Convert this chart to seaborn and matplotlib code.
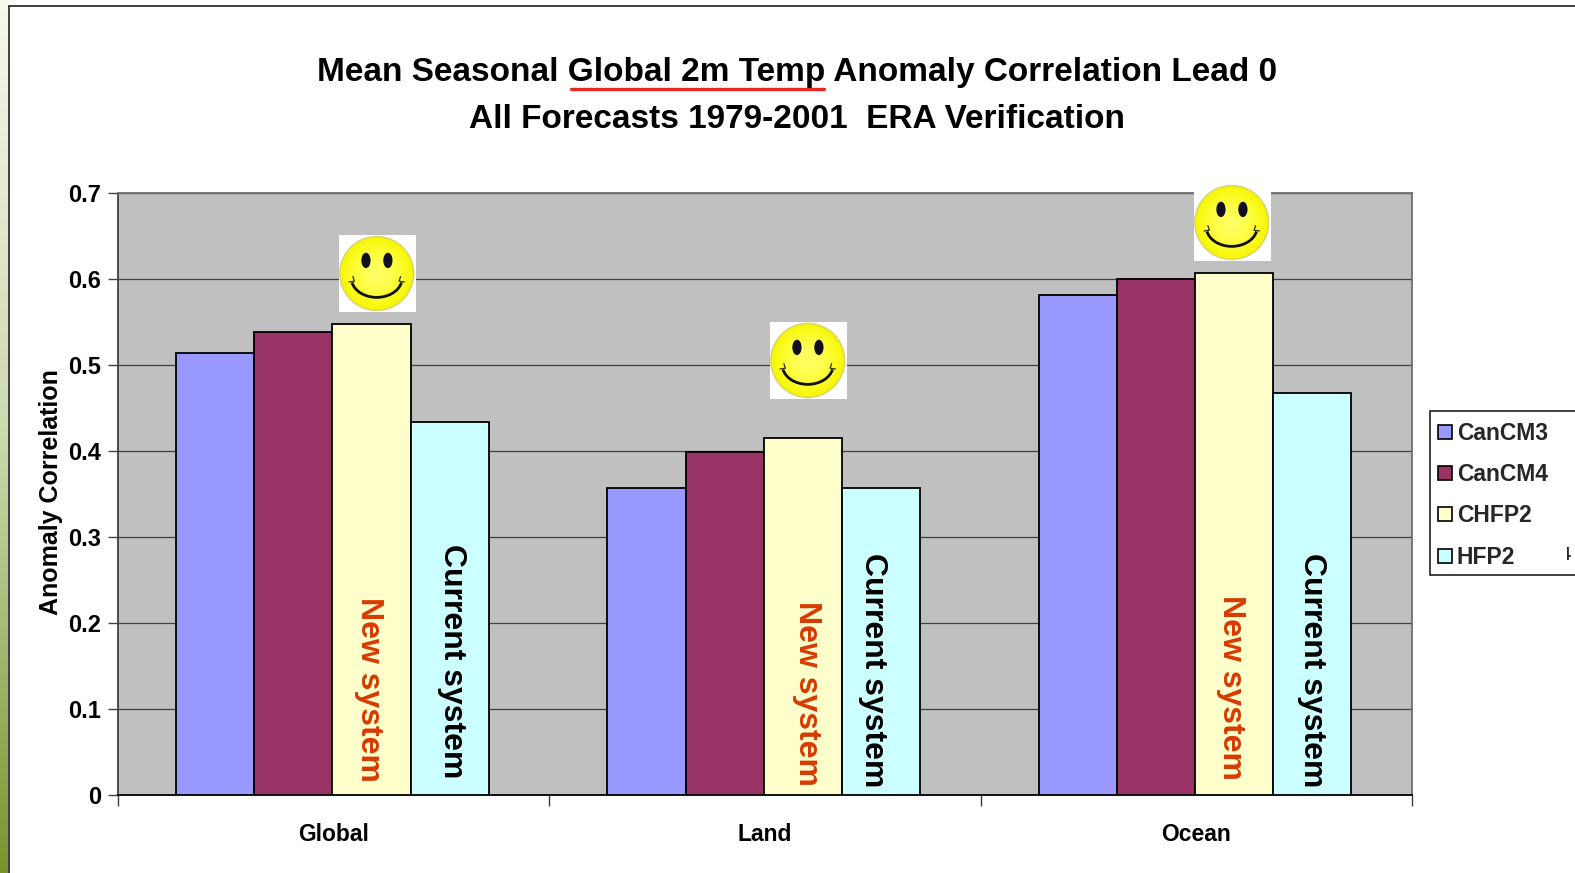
import numpy as np
import pandas as pd
import matplotlib
matplotlib.use("Agg")
import matplotlib.pyplot as plt
from matplotlib.patches import Rectangle, Circle, Ellipse, Arc
from matplotlib.transforms import Bbox
import seaborn as sns

categories = ["Global", "Land", "Ocean"]
models = ["CanCM3", "CanCM4", "CHFP2", "HFP2"]
cancm3 = [0.513, 0.357, 0.581]
cancm4 = [0.538, 0.398, 0.599]
chfp2 = [0.547, 0.415, 0.606]
hfp2 = [0.433, 0.357, 0.467]
colors = ["#9999FF", "#993366", "#FFFFCC", "#CCFFFF"]
yticks = [0, 0.1, 0.2, 0.3, 0.4, 0.5, 0.6, 0.7]
ytick_labels = ["0", "0.1", "0.2", "0.3", "0.4", "0.5", "0.6", "0.7"]
title_lines = ["Mean Seasonal Global 2m Temp Anomaly Correlation Lead 0",
               "All Forecasts 1979-2001  ERA Verification"]

W, H = 1575, 873
sns.set_theme(style="white")
plt.rcParams["font.family"] = ["Liberation Sans", "DejaVu Sans"]

def fx(px): return px / W
def fy(py): return 1 - py / H

fig = plt.figure(figsize=(W / 100, H / 100), dpi=100, facecolor="white")

# slide edge: pale-to-olive gradient strip and dark frame
strip = fig.add_axes([0, 0, fx(8), 1], zorder=0)
t = np.linspace(0, 1, 256)[:, None]
c0, c1, c2 = np.array([.97, .97, .93]), np.array([.80, .85, .68]), np.array([.48, .58, .18])
grad = np.where(t < .5, c0 + (c1 - c0) * t * 2, c1 + (c2 - c1) * (t - .5) * 2)
strip.imshow(grad[:, None, :].reshape(256, 1, 3), aspect="auto")
strip.axis("off")
fig.add_artist(plt.Line2D([fx(8.5), fx(8.5)], [0, fy(6)], color="#303030", lw=1.3))
fig.add_artist(plt.Line2D([fx(8.5), 1], [fy(6), fy(6)], color="#303030", lw=1.3))

L, R, T, B = 118, 1412, 192.5, 795
ax = fig.add_axes([fx(L), fy(B), fx(R - L), (B - T) / H], facecolor="#C0C0C0")

df = pd.DataFrame({"Category": categories, models[0]: cancm3, models[1]: cancm4,
                   models[2]: chfp2, models[3]: hfp2}).melt(
    id_vars="Category", var_name="Model", value_name="Value")
sns.barplot(data=df, x="Category", y="Value", hue="Model", hue_order=models, order=categories,
            palette=colors, saturation=1, width=0.725, gap=0, dodge=True,
            edgecolor="black", linewidth=1.3, legend=False, ax=ax, zorder=3)
for p in ax.patches:
    p.set_x(p.get_x() - 0.003)
ax.set_xlim(-0.5, 2.5)
ax.set_ylim(0, 0.7)
ax.set_yticks(yticks, ytick_labels, fontsize=17, fontweight="bold", color="black")
ax.set_xticks(range(3), categories, fontsize=16.5, fontweight="bold", color="black")
ax.set_xticks([-0.5, 0.5, 1.5, 2.5], minor=True)
ax.tick_params(axis="x", which="major", length=0, pad=20)
ax.tick_params(axis="x", which="minor", length=8, width=1, color="#404040", bottom=True)
ax.tick_params(axis="y", length=7, width=1, color="#404040", left=True, pad=5)
ax.set_xlabel("")
ax.set_ylabel("Anomaly Correlation", fontsize=18, fontweight="bold", color="black", labelpad=3.5, y=0.503)
ax.yaxis.grid(True, color="#404040", lw=0.9, zorder=1)
ax.set_axisbelow(True)
for s, sp in ax.spines.items():
    sp.set_visible(True); sp.set_color("#707070"); sp.set_linewidth(1.3)
ax.spines["bottom"].set_color("black")
ax.spines["left"].set_color("#404040")

# title
for line, y in zip(title_lines, [70, 117]):
    fig.text(fx(797), fy(y + 2), line, ha="center", va="center", fontsize=24, fontweight="bold",
             color="black", zorder=6)
fig.add_artist(plt.Line2D([fx(571), fx(824)], [fy(89), fy(89)], color="#E8281E", lw=2.4))

# rotated annotations
def rot(px, py0, py1, s, color):
    fig.text(fx(px), fy((py0 + py1) / 2), s, rotation=270, ha="center", va="center", fontsize=23,
             fontweight="bold", color=color, zorder=8)
red = "#D83A00"
rot(369, 598, 781, "New system", red)
rot(452, 544, 778, "Current system", "black")
rot(807, 602, 785, "New system", red)
rot(873, 555, 786, "Current system", "black")
rot(1231, 596, 778, "New system", red)
rot(1312, 555, 786, "Current system", "black")

# smileys
def smiley(x0, y0, size=77):
    a = fig.add_axes([fx(x0), fy(y0 + size), size / W, size / H], zorder=7)
    a.axis("off")
    yy, xx = np.mgrid[0:100:300j, 0:100:300j]
    r = np.clip(np.hypot(xx - 49, yy - 50) / 48, 0, None)
    col = np.ones((300, 300, 4))
    rc = np.clip(r, 0, 1)
    col[..., 0] = 1 - .04 * rc ** 3
    col[..., 1] = 1 - .04 * rc ** 3
    col[..., 2] = .40 * (1 - rc ** 1.5)
    col[..., 3] = (r <= 1).astype(float)
    a.add_patch(Rectangle((0, 0), 100, 100, fc="white", ec="none", zorder=0))
    a.imshow(col, extent=(0, 100, 0, 100), origin="lower", aspect="auto", zorder=1)
    a.set_xlim(0, 100); a.set_ylim(0, 100)
    a.add_patch(Circle((49, 50), 48, fc="none", ec="#D8D070", lw=1, zorder=2))
    for ex in (35, 63.5):
        a.add_patch(Ellipse((ex, 67), 12, 20, fc="#101020", ec="none", zorder=3))
    a.add_patch(Arc((49, 44), 66, 50, theta1=190, theta2=350, color="#101010", lw=2.0, zorder=3))
    a.plot([13, 20, 18], [39, 40, 46], color="#303020", lw=0.9, zorder=3)
    a.plot([85, 78, 80], [39, 40, 46], color="#303020", lw=0.9, zorder=3)

smiley(339, 235)
smiley(770, 322)
smiley(1194, 184)

# legend
fig.add_artist(Rectangle((fx(1429.5), fy(575)), 1, (575 - 410.5) / H, transform=fig.transFigure,
                         fc="white", ec="#202020", lw=1.2, zorder=5))
for name, color, y in zip(models, colors, [432, 473, 514, 556]):
    fig.add_artist(Rectangle((fx(1438), fy(y + 7)), 14 / W, 14 / H, transform=fig.transFigure,
                             fc=color, ec="black", lw=1.2, zorder=6))
    fig.text(fx(1457), fy(y + 2), name, ha="left", va="center", fontsize=16.5, fontweight="bold", zorder=6)
stray = fig.text(fx(1571), fy(555), "4", ha="right", va="center", fontsize=14, fontweight="bold", zorder=6)
stray.set_clip_box(Bbox([[1566.5, 0], [1575, 873]]))
stray.set_clip_on(True)

fig.savefig("out.png", dpi=100)
